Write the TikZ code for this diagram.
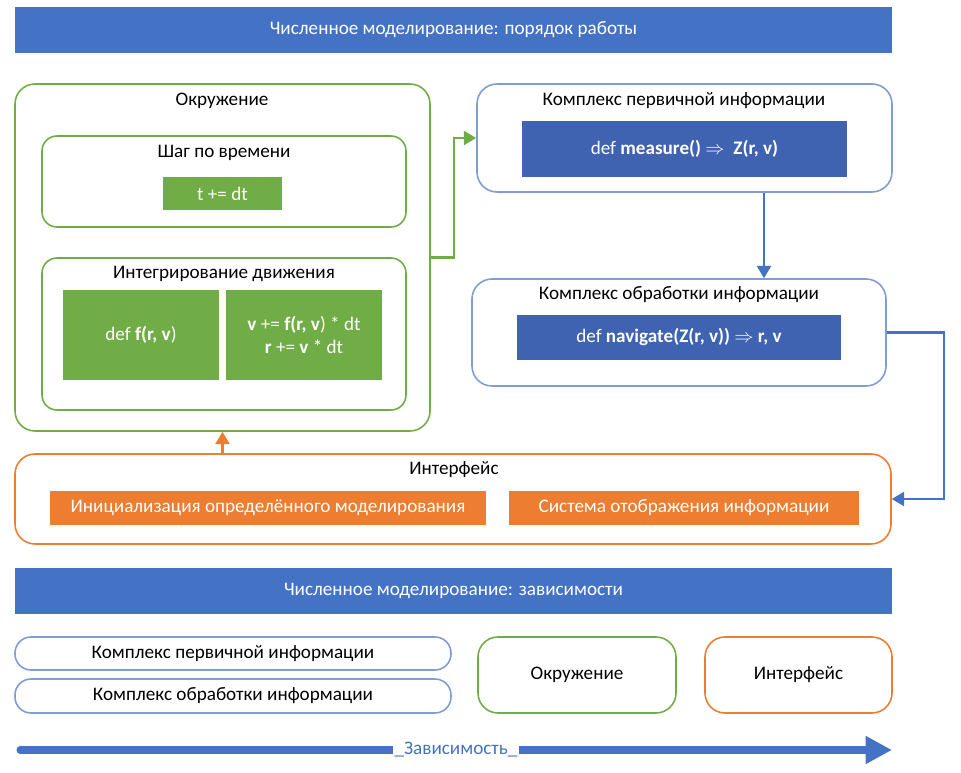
\documentclass[tikz,border=0pt]{standalone}
\usepackage{fontspec}
\setmainfont{Carlito}
\usetikzlibrary{arrows.meta,fit}

\definecolor{bandblue}{HTML}{4472C4}
\definecolor{codeblue}{HTML}{3F63B0}
\definecolor{lineblue}{HTML}{7F9CD3}
\definecolor{envgreen}{HTML}{70AD47}
\definecolor{uiorange}{HTML}{ED7D31}

\begin{document}
\begin{tikzpicture}[x=0.02cm, y=-0.02cm, font=\fontsize{10.9}{13}\selectfont,
  band/.style={fill=bandblue, inner sep=0pt},
  frame/.style={draw, rounded corners=0.4cm, line width=0.9pt, inner sep=0pt},
  subframe/.style={frame, rounded corners=0.3cm},
  pill/.style={frame, rounded corners=0.32cm},
  block/.style={inner sep=0pt},
  wcap/.style={label={[text=white, align=center]center:{#1}}},
  bcap/.style={label={[align=center]center:{#1}}},
  link/.style={line width=1.3pt, -{Triangle[length=7pt,width=8pt]}}
]

  \useasboundingbox (0,0) rectangle (961,773);

  % Bands
  \node[band, fit={(15,7) (892,53)}, wcap={Численное моделирование: порядок работы}] (band1) {};
  \node[band, fit={(15,568) (892,614)}, wcap={Численное моделирование: зависимости}] (band2) {};

  % Environment
  \node[frame, draw=envgreen, fit={(15,84) (430,431)}] (env) {};
  \node (envtitle) at (222,101) {Окружение};
  \node[subframe, draw=envgreen, fit={(42,136) (406,227)}] (timestep) {};
  \node (timesteptitle) at (224,153) {Шаг по времени};
  \node[block, fill=envgreen, fit={(163,177) (282,210)}, wcap={t += dt}] (tick) {};
  \node[subframe, draw=envgreen, fit={(42,258) (406,410)}] (integ) {};
  \node (integtitle) at (224,274) {Интегрирование движения};
  \node[block, fill=envgreen, fit={(63,290) (219,380)}, wcap={def \textbf{f(r, v})}] (force) {};
  \node[block, fill=envgreen, fit={(226,290) (382,380)},
    wcap={\textbf{v} += \textbf{f(r, v}) * dt\\\textbf{r} += \textbf{v} * dt}] (update) {};

  % Primary information
  \node[frame, draw=lineblue, fit={(477,84) (892,192)}] (sensor) {};
  \node (sensortitle) at (684,101) {Комплекс первичной информации};
  \node[block, fill=codeblue, fit={(522,121) (847,177)},
    wcap={def \textbf{measure()} $\Rightarrow$\ \ \textbf{Z(r, v)}}] (measure) {};

  % Processing
  \node[frame, draw=lineblue, fit={(472,279) (886,386)}] (proc) {};
  \node (proctitle) at (679,295) {Комплекс обработки информации};
  \node[block, fill=codeblue, fit={(517,315) (841,360)},
    wcap={def \textbf{navigate(Z(r, v))} $\Rightarrow$ \textbf{r, v}}] (navigate) {};

  % Interface
  \node[frame, draw=uiorange, fit={(15,454) (891,544)}] (ui) {};
  \node (uititle) at (454,470) {Интерфейс};
  \node[block, fill=uiorange, fit={(50,491) (486,525)}, wcap={Инициализация определённого моделирования}] (init) {};
  \node[block, fill=uiorange, fit={(509,491) (859,525)}, wcap={Система отображения информации}] (display) {};

  % Links
  \coordinate (drop) at (764,0);
  \draw[link, envgreen] (env.east) -- ++(23,0) |- (sensor.west);
  \draw[link, bandblue] (sensor.south -| drop) -- (proc.north -| drop);
  \draw[link, bandblue] (proc.east) -- ++(57,0) |- (ui.east);
  \draw[link, uiorange] (env.south |- ui.north) -- (env.south);

  % Dependencies
  \node[pill, draw=lineblue, fit={(15,637) (451,670)}, bcap={Комплекс первичной информации}] (sensorkey) {};
  \node[pill, draw=lineblue, fit={(15,679) (451,713)}, bcap={Комплекс обработки информации}] (prockey) {};
  \node[frame, draw=envgreen, fit={(478,637) (676,713)}, bcap={Окружение}] (envkey) {};
  \node[frame, draw=uiorange, fit={(705,637) (892,713)}, bcap={Интерфейс}] (uikey) {};

  \coordinate (depstart) at (20,750);
  \coordinate (depend) at (892,750);
  \draw[bandblue, line width=4pt, line cap=round, -{Triangle[length=15pt,width=15pt]}]
    (depstart) -- (depend)
    node[pos=0.5, fill=white, text=bandblue, inner xsep=1pt, inner ysep=2pt] (deplabel) {\_Зависимость\_};

\end{tikzpicture}
\end{document}
